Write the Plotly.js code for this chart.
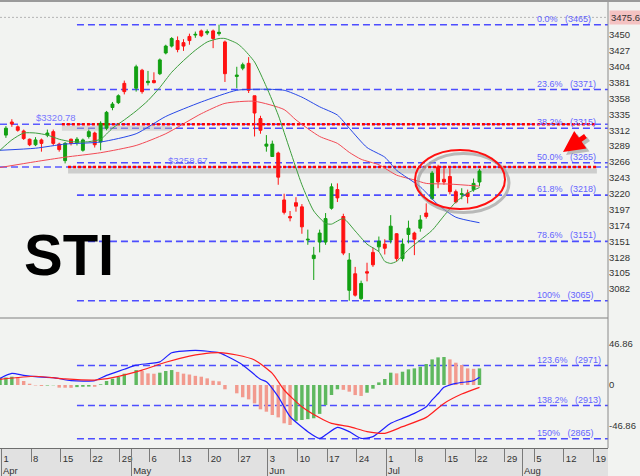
<!DOCTYPE html>
<html><head><meta charset="utf-8">
<script src="https://cdn.plot.ly/plotly-3.0.1.min.js"></script>
<style>html,body{margin:0;padding:0;background:#f2f3f1;}#chart{width:640px;height:476px;}</style>
</head><body><div id="chart"></div>
<script>
// ---------- DATA ----------
const dates = [
 '2013-04-02','2013-04-03','2013-04-04','2013-04-05','2013-04-08','2013-04-09','2013-04-10','2013-04-11','2013-04-12',
 '2013-04-15','2013-04-16','2013-04-17','2013-04-18','2013-04-19','2013-04-22','2013-04-23','2013-04-24','2013-04-25','2013-04-26',
 '2013-04-29','2013-04-30','2013-05-02','2013-05-03','2013-05-06','2013-05-07','2013-05-08','2013-05-09','2013-05-10',
 '2013-05-13','2013-05-14','2013-05-15','2013-05-16','2013-05-17','2013-05-20','2013-05-21','2013-05-22','2013-05-23',
 '2013-05-27','2013-05-28','2013-05-29','2013-05-30','2013-05-31','2013-06-03','2013-06-04','2013-06-05','2013-06-06','2013-06-07',
 '2013-06-10','2013-06-11','2013-06-12','2013-06-13','2013-06-14','2013-06-17','2013-06-18','2013-06-19','2013-06-20','2013-06-21',
 '2013-06-24','2013-06-25','2013-06-26','2013-06-27','2013-06-28','2013-07-01','2013-07-02','2013-07-03','2013-07-04','2013-07-05',
 '2013-07-08','2013-07-09','2013-07-10','2013-07-11','2013-07-12','2013-07-15','2013-07-16','2013-07-17','2013-07-18','2013-07-19',
 '2013-07-22','2013-07-23'];
const open  = [3305,3324,3317,3311,3299,3291,3298,3305,3310,3292,3268,3299,3294,3283,3303,3308,3295,3315,3345,3352,3380,
 3373,3399,3381,3384,3394,3424,3434,3442,3439,3448,3450,3456,3453,3456,3452,3440,3390,3402,3409,3362,3329,
 3289,3274,3279,3211,3187,3207,3201,3153,3126,3150,3150,3199,3226,3187,3080,3104,3068,3107,3135,3143,
 3147,3153,3162,3126,3161,3163,3170,3192,3213,3259,3241,3245,3223,3219,3221,3226,3237];
const high  = [3318,3328,3319,3313,3300,3302,3300,3313,3313,3294,3295,3300,3302,3300,3313,3310,3325,3340,3353,3364,3384,
 3407,3401,3398,3396,3416,3436,3447,3448,3444,3452,3455,3458,3458,3458,3465,3442,3404,3410,3418,3362,3333,
 3305,3297,3281,3220,3195,3215,3205,3168,3143,3168,3192,3235,3235,3191,3134,3114,3094,3120,3142,3158,
 3154,3189,3163,3155,3181,3165,3189,3206,3253,3262,3259,3259,3226,3228,3226,3242,3256];
const low   = [3301,3317,3310,3298,3289,3289,3281,3302,3290,3281,3264,3290,3290,3281,3300,3287,3283,3312,3341,3350,3364,
 3368,3365,3377,3380,3392,3422,3432,3425,3427,3436,3446,3447,3450,3431,3449,3382,3373,3399,3366,3303,3307,
 3281,3274,3233,3190,3180,3194,3162,3146,3095,3135,3146,3197,3208,3131,3065,3071,3066,3093,3114,3136,
 3132,3148,3122,3122,3148,3131,3165,3184,3211,3228,3233,3219,3206,3212,3206,3223,3231];
const close = [3315,3321,3312,3300,3291,3298,3293,3308,3293,3284,3293,3293,3299,3298,3310,3291,3322,3338,3350,3362,3368,
 3404,3368,3383,3381,3414,3434,3445,3429,3434,3442,3451,3449,3455,3445,3454,3394,3392,3407,3370,3337,3312,
 3292,3292,3244,3193,3185,3202,3172,3154,3131,3163,3184,3230,3214,3134,3124,3073,3090,3105,3117,3151,
 3141,3173,3126,3147,3170,3154,3182,3187,3250,3237,3237,3223,3208,3220,3216,3235,3253];

// moving averages
const maGreenDates = ['2013-04-01','2013-04-03','2013-04-05','2013-04-09','2013-04-11','2013-04-15','2013-04-17','2013-04-19','2013-04-22',
 '2013-04-24','2013-04-26','2013-04-30','2013-05-02','2013-05-06','2013-05-08','2013-05-10','2013-05-14','2013-05-16','2013-05-20',
 '2013-05-22','2013-05-23','2013-05-27','2013-05-28','2013-05-30','2013-06-03','2013-06-05','2013-06-07','2013-06-11','2013-06-13',
 '2013-06-17','2013-06-18','2013-06-20','2013-06-24','2013-06-26','2013-06-28','2013-07-01','2013-07-02','2013-07-03','2013-07-05',
 '2013-07-09','2013-07-11','2013-07-15','2013-07-17','2013-07-19','2013-07-23'];
const maGreen = [3283,3298,3308,3308,3305,3299,3295.5,3295,3295.5,3299,3315,3327,3340,3355,3374,3396,3413,3428,3440,
 3445,3445,3438,3431,3411,3375,3334,3283,3233,3195,3177,3176,3184,3166,3147,3136,3122,3119,3122,3139,
 3153,3167,3188,3208,3221,3229];
const maBlueDates = ['2013-04-01','2013-04-09','2013-04-16','2013-04-24','2013-05-02','2013-05-09','2013-05-17','2013-05-27','2013-05-31',
 '2013-06-06','2013-06-11','2013-06-14','2013-06-19','2013-06-21','2013-06-26','2013-07-01','2013-07-03','2013-07-09','2013-07-12',
 '2013-07-17','2013-07-23'];
const maBlue = [3283,3286,3292,3295,3307,3332,3353,3370,3371.5,3370,3360,3346,3334,3315,3287,3273,3254,3230,3204,3186,3178];
const maRedDates = ['2013-04-01','2013-04-09','2013-04-16','2013-04-24','2013-05-02','2013-05-09','2013-05-17','2013-05-23','2013-05-30',
 '2013-06-06','2013-06-10','2013-06-14','2013-06-19','2013-06-21','2013-06-25','2013-06-28','2013-07-03','2013-07-08','2013-07-10',
 '2013-07-16','2013-07-23'];
const maRed = [3258,3266.5,3273,3279.5,3290,3307,3336,3351,3354,3342,3327,3303,3293,3280,3270,3262,3247,3240,3235,3234,3231];

// MACD panel
const histDates = ['2013-04-01'].concat(dates);
const hist = [8.4,8.6,9.5,8.4,4.6,1.5,-0.5,-1.1,-0.6,-0.3,-3.0,-3.1,-3.2,-2.4,-2.0,-1.8,-2.0,0.8,4.6,7.2,9.1,12.9,
 17.1,16.0,13.3,12.9,14.1,16.0,17.1,15.0,13.0,12.0,10.5,9.5,7.6,4.9,4.2,-4.9,-9.5,-14,-16.4,-21,-27.8,
 -30.5,-34.3,-37,-43.8,-45.7,-41,-40,-39,-38,-33,-23,-11.4,-4.9,-5.5,-7.6,-11.5,-12.5,-8.8,-4.2,3.0,
 6.9,14.1,13.3,15.2,17.9,19.0,20.9,24.0,29.3,31.6,32.0,29.3,25.5,22.9,19.0,18.5,19.0];
const macdDates = ['2013-04-01','2013-04-03','2013-04-05','2013-04-09','2013-04-12','2013-04-17','2013-04-23','2013-04-25','2013-04-30',
 '2013-05-02','2013-05-08','2013-05-10','2013-05-16','2013-05-22','2013-05-23','2013-05-28','2013-05-31','2013-06-03','2013-06-05',
 '2013-06-07','2013-06-12','2013-06-14','2013-06-17','2013-06-19','2013-06-21','2013-06-25','2013-06-27','2013-07-02','2013-07-04',
 '2013-07-08','2013-07-10','2013-07-11','2013-07-12','2013-07-15','2013-07-17','2013-07-22','2013-07-23'];
const macd = [7.6,13.3,11,9.5,8.4,5,5,11,18,22.7,26.5,36.9,39.5,37,34,23,6.5,3.8,-13.3,-36,-53.3,-61,-57,-48.4,-53.3,-61,-59,
 -43.8,-38.1,-32.4,-24.8,-17,-10,-2.7,1.9,4.9,8.8];
const sigDates = ['2013-04-01','2013-04-09','2013-04-16','2013-04-23','2013-04-26','2013-05-03','2013-05-09','2013-05-15','2013-05-17',
 '2013-05-22','2013-05-27','2013-05-30','2013-06-04','2013-06-06','2013-06-11','2013-06-14','2013-06-18','2013-06-21','2013-06-26',
 '2013-07-01','2013-07-04','2013-07-10','2013-07-15','2013-07-18','2013-07-23'];
const sig = [6.5,10,7,5.7,8.4,17,26,33,35.4,37,34.3,28.6,13.3,-5.7,-24.8,-37.5,-43.8,-47.6,-53.3,-55.2,-47.6,-37,-21,-10.3,-2.7];

// Fibonacci retracement and horizontal levels
const fibPct = ['0.0%','23.6%','38.2%','50.0%','61.8%','78.6%','100%','123.6%','138.2%','150%'];
const fibLevel = [3465,3371,3315,3265,3218,3151,3065,2971,2913,2865];
const hLevels = [3320.78, 3258.67];
const lastPrice = 3475.6;

// axis ticks
const priceTicks = [3496,3450,3427,3404,3381,3358,3335,3312,3289,3266,3243,3220,3197,3174,3151,3128,3105,3082];
const macdTicks = [46.86, 0, -46.86];
const macdTickText = ['46.86','0','-46.86'];
const weekDates = ['2013-04-01','2013-04-08','2013-04-15','2013-04-22','2013-04-29','2013-05-06','2013-05-13','2013-05-20','2013-05-27',
 '2013-06-03','2013-06-10','2013-06-17','2013-06-24','2013-07-01','2013-07-08','2013-07-15','2013-07-22','2013-07-29',
 '2013-08-05','2013-08-12','2013-08-19'];
const weekLabels = ['1','8','15','22','29','6','13','20','27','3','10','17','24','1','8','15','22','29','5','12','19'];
const monthDates = ['2013-04-01','2013-05-01','2013-06-03','2013-07-01','2013-08-01'];
const monthNames = ['Apr','May','Jun','Jul','Aug'];

// ---------- CHART ----------
const FONT = 'Liberation Sans, Arial, sans-serif';
const X_RANGE = ['2013-04-01', '2013-08-21 17:00'];
const BREAKS = [{bounds:['sat','mon']}];
const shift6h = d => d + ' 06:00';
const GREEN = '#5fb85f', SALMON = '#f29a8e';
const histColors = hist.map((v,i) => (i === 0 || v >= hist[i-1]) ? GREEN : SALMON);
const MACD_TOP = 130/446;

const traces = [
 {type:'bar', x:histDates, y:hist, xaxis:'x', yaxis:'y2', marker:{color:histColors, line:{width:0}}, hoverinfo:'skip'},
 {type:'scatter', mode:'lines', x:macdDates, y:macd, xaxis:'x', yaxis:'y2', line:{color:'#1f1fff', width:1.2, shape:'spline', smoothing:0.6}, hoverinfo:'skip'},
 {type:'scatter', mode:'lines', x:sigDates, y:sig, xaxis:'x', yaxis:'y2', line:{color:'#ff1f1f', width:1.2, shape:'spline', smoothing:0.6}, hoverinfo:'skip'},
 {type:'scatter', mode:'lines', x:maRedDates, y:maRed, line:{color:'#f24a55', width:1, shape:'spline', smoothing:0.6}, hoverinfo:'skip'},
 {type:'scatter', mode:'lines', x:maBlueDates, y:maBlue, line:{color:'#2848e8', width:1, shape:'spline', smoothing:0.6}, hoverinfo:'skip'},
 {type:'scatter', mode:'lines', x:maGreenDates, y:maGreen, line:{color:'#3d9e3d', width:1, shape:'spline', smoothing:0.6}, hoverinfo:'skip'},
 {type:'candlestick', x:dates, open:open, high:high, low:low, close:close, xaxis:'x', yaxis:'y',
  increasing:{line:{color:'#12a012', width:1}, fillcolor:'#12a012'},
  decreasing:{line:{color:'#ff1212', width:1}, fillcolor:'#ff1212'},
  whiskerwidth:0, hoverinfo:'skip'},
 {type:'scatter', mode:'markers', x:[monthDates[0]], y:[0], xaxis:'x2', yaxis:'y2', marker:{size:1, opacity:0}, hoverinfo:'skip'}
];

const shapes = [];
// bottom axis band
shapes.push({type:'rect', xref:'paper', yref:'paper', x0:0, x1:1, y0:-28/446, y1:0, fillcolor:'#e1e1e1', line:{width:0}, layer:'below'});
// last price dotted line
shapes.push({type:'line', xref:'paper', yref:'y', x0:0, x1:1, y0:lastPrice, y1:lastPrice, line:{color:'#b4b4b4', width:1, dash:'2px,2px'}, layer:'below'});
// fib lines
fibLevel.forEach(l => shapes.push({type:'line', xref:'x', yref:'y', x0:'2013-04-18', x1:X_RANGE[1], y0:l, y1:l,
  line:{color:'#4d4dff', width:1.6, dash:'7px,4px'}, layer:'below'}));
// horizontal user lines: blue dashed, grey shadow, red dotted
const redStart = ['2013-04-15 11:00','2013-04-16 12:00'];
const shadowEnd = ['2013-05-10','2013-08-19 20:00'];
const shadowColor = ['rgba(185,185,185,0.45)','rgba(175,175,175,0.55)'];
hLevels.forEach((l,i) => {
  shapes.push({type:'line', xref:'paper', yref:'y', x0:0, x1:1, y0:l, y1:l, line:{color:'#5a5aff', width:1.6, dash:'7px,4px'}, layer:'below'});
  shapes.push({type:'line', xref:'x', yref:'y', ysizemode:'pixel', yanchor:l, y0:-4, y1:-4, x0:redStart[i], x1:shadowEnd[i],
    line:{color:shadowColor[i], width:5}, layer:'below'});
  shapes.push({type:'line', xref:'x', yref:'y', x0:redStart[i], x1:'2013-08-19 20:00', y0:l, y1:l,
    line:{color:'#ff0000', width:2.6, dash:'3px,2px'}, layer:'below'});
});
// circle highlight (shadow + red)
shapes.push({type:'circle', xref:'x', yref:'y', xsizemode:'pixel', ysizemode:'pixel', xanchor:'2013-07-17 17:00', yanchor:3240.6,
  x0:-42, x1:49, y0:-33, y1:26, line:{color:'rgba(160,160,160,0.7)', width:3}});
shapes.push({type:'circle', xref:'x', yref:'y', xsizemode:'pixel', ysizemode:'pixel', xanchor:'2013-07-17 17:00', yanchor:3240.6,
  x0:-45, x1:45, y0:-29.5, y1:29.5, line:{color:'#ff1010', width:2}});
// frame lines
shapes.push({type:'line', xref:'paper', yref:'paper', x0:0, x1:1, y0:MACD_TOP, y1:MACD_TOP, line:{color:'#808080', width:1}});
shapes.push({type:'line', xref:'paper', yref:'paper', x0:1, x1:1, y0:0, y1:1, line:{color:'#8a8a8a', width:1}});
shapes.push({type:'line', xref:'paper', yref:'paper', x0:0, x1:1.06, y0:1.002, y1:1.002, line:{color:'#9a9a9a', width:2}});

const annotations = [];
const nb = '\u00a0\u00a0\u00a0';
fibLevel.forEach((l,i) => annotations.push({xref:'paper', x:535/608, xanchor:'left', yref:'y', y:l, yanchor:'bottom', yshift:-1,
  text:fibPct[i] + nb + '(' + l + ')', showarrow:false, font:{family:FONT, size:9, color:'#6464ff'}}));
const hLabelX = [56/608, 188/608];
hLevels.forEach((l,i) => annotations.push({xref:'paper', x:hLabelX[i], xanchor:'center', yref:'y', y:l, yanchor:'bottom', yshift:-1,
  text:'$' + l.toFixed(2), showarrow:false, font:{family:FONT, size:9.5, color:'#7878ff'}}));
annotations.push({xref:'paper', yref:'paper', x:69/608, y:(448-254)/446, xanchor:'center', yanchor:'middle', text:'<b>STI</b>', showarrow:false,
  font:{family:FONT, size:58, color:'#000000'}});
annotations.push({xref:'paper', x:1, xanchor:'left', xshift:1, yref:'y', y:lastPrice, text:lastPrice.toFixed(1), showarrow:false,
  bgcolor:'#f4c2c2', borderpad:1, font:{family:FONT, size:9.5, color:'#333'}});
// arrow (shadow + red)
annotations.push({xref:'paper', yref:'paper', x:566/608, y:(448-155)/446, ax:24, ay:-17, text:'', showarrow:true,
  arrowhead:2, arrowsize:0.85, arrowwidth:5, arrowcolor:'rgba(150,150,150,0.6)'});
annotations.push({xref:'paper', yref:'paper', x:563/608, y:(448-152)/446, ax:24, ay:-17, text:'', showarrow:true,
  arrowhead:2, arrowsize:0.85, arrowwidth:5, arrowcolor:'#ff0000'});

const tickFont = {family:FONT, size:9.5, color:'#333'};
const layout = {
  width:640, height:476, margin:{l:0, r:32, t:2, b:28, pad:0}, autosize:false,
  paper_bgcolor:'#f2f3f1', plot_bgcolor:'rgba(0,0,0,0)', showlegend:false, bargap:0.42,
  font:{family:FONT, size:9.5, color:'#333'},
  xaxis:{type:'date', range:X_RANGE, rangebreaks:BREAKS, anchor:'y2', rangeslider:{visible:false},
    tickvals:weekDates.map(shift6h), ticktext:weekLabels, ticks:'outside', ticklen:13, tickwidth:1, tickcolor:'#7a7a7a',
    ticklabelposition:'outside right', ticklabelstandoff:2, ticklabelshift:1, tickfont:tickFont,
    showgrid:false, zeroline:false, showline:true, linecolor:'#6e6e6e', linewidth:1, fixedrange:true},
  xaxis2:{type:'date', range:X_RANGE, rangebreaks:BREAKS, overlaying:'x', anchor:'y2', side:'bottom',
    tickvals:monthDates.map(shift6h), ticktext:monthNames, ticks:'outside', ticklen:28, tickwidth:1, tickcolor:'#7a7a7a',
    ticklabelposition:'outside right', ticklabelstandoff:14, ticklabelshift:1, tickfont:tickFont,
    showgrid:false, zeroline:false, showline:false, fixedrange:true},
  yaxis:{domain:[0,1], range:[2851.5, 3497.9], side:'right', anchor:'x', tickvals:priceTicks, ticktext:priceTicks.map(String),
    tickfont:tickFont, showgrid:false, zeroline:false, showline:false, ticks:'', fixedrange:true},
  yaxis2:{domain:[0, MACD_TOP], range:[-72, 76.6], side:'right', anchor:'x', tickvals:macdTicks, ticktext:macdTickText,
    tickfont:tickFont, showgrid:false, zeroline:false, showline:false, ticks:'', fixedrange:true},
  shapes:shapes, annotations:annotations
};
Plotly.newPlot('chart', traces, layout, {staticPlot:true, displayModeBar:false});
</script>
</body></html>
